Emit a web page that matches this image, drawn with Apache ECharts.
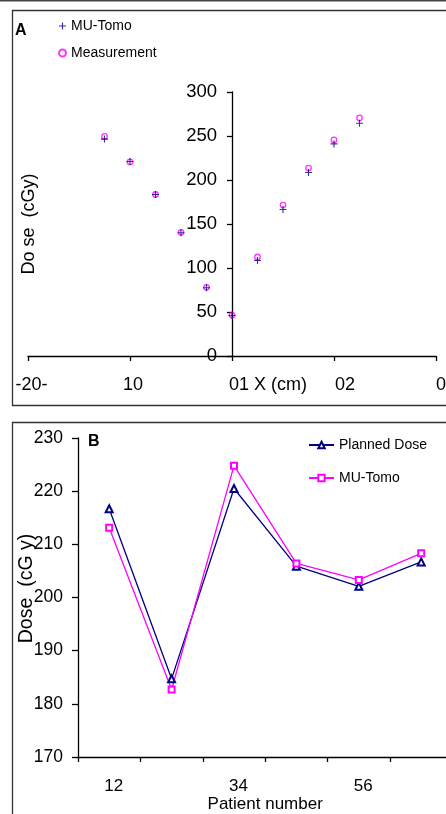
<!DOCTYPE html>
<html>
<head>
<meta charset="utf-8">
<script src="https://cdn.jsdelivr.net/npm/echarts@6/dist/echarts.min.js"></script>
<style>html,body{margin:0;padding:0;background:#fff}#c{width:446px;height:814px}</style>
</head>
<body>
<div id="c"></div>
<script>
// ---- Panel A data ----
const xPositionsA = [-12.5, -10, -7.5, -5, -2.5, 0, 2.5, 5, 7.5, 10, 12.5];
const muTomoA = [246.5, 221, 183.5, 140, 77.5, 46, 108.5, 166.5, 208.5, 241, 264.5];
const measurementA = [249.5, 220.5, 183.5, 140.5, 78, 46.5, 112.5, 171.5, 213.5, 245.5, 270.5];
const xTickLabelsA = ['-20-', '10', '01 X (cm)', '02', '0'];
// ---- Panel B data ----
const patientsB = ['1', '2', '3', '4', '5', '6'];
const plannedDoseB = [216.7, 184.7, 220.5, 205.9, 202.1, 206.7];
const muTomoB = [213.1, 182.7, 224.8, 206.4, 203.3, 208.3];
const xTickLabelsB = ['12', '34', '56'];

const FONT = 'Liberation Sans, Arial, sans-serif';
const axisLineStyle = { color: '#000', width: 1.3 };
const plusPath = 'path://M4.2,0H5.8V4.2H10V5.8H5.8V10H4.2V5.8H0V4.2H4.2Z';

const chart = echarts.init(document.getElementById('c'), null, { renderer: 'canvas' });
const shiftsA = [7, 6, 72, 22, 10];
const richA = {};
shiftsA.forEach((p, i) => { richA['s' + i] = { padding: [0, 0, 0, p], fontSize: 18, fontFamily: FONT, color: '#000' }; });

chart.setOption({
  animation: false,
  backgroundColor: '#fff',
  textStyle: { fontFamily: FONT },
  grid: [
    { left: 28, right: 10, top: 92, bottom: 458, containLabel: false, outerBoundsMode: 'none' },
    { left: 78, right: -6.4, top: 438, bottom: 57, containLabel: false, outerBoundsMode: 'none' }
  ],
  xAxis: [
    {
      gridIndex: 0, type: 'value', min: -20, max: 20, interval: 10,
      splitLine: { show: false },
      axisLine: { show: true, onZero: false, lineStyle: axisLineStyle },
      axisTick: { show: true, length: 5, lineStyle: axisLineStyle },
      axisLabel: {
        margin: 20, fontSize: 18, color: '#000', fontFamily: FONT,
        formatter: function (v) { const i = Math.round((v + 20) / 10); return '{s' + i + '|' + xTickLabelsA[i] + '}'; },
        rich: richA
      }
    },
    {
      gridIndex: 1, type: 'category', data: patientsB, boundaryGap: true,
      axisLine: { show: true, onZero: false, lineStyle: axisLineStyle },
      axisTick: { show: true, length: 5, interval: 0, lineStyle: axisLineStyle },
      axisLabel: {
        interval: 1, margin: 21, fontSize: 17, color: '#000', fontFamily: FONT, padding: [0, 0, 0, 9],
        formatter: function (v, i) { return xTickLabelsB[Math.floor(i / 2)]; }
      },
      name: 'Patient number', nameLocation: 'middle', nameGap: 39, nameMoveOverlap: false,
      nameTextStyle: { fontSize: 17, color: '#000', fontFamily: FONT }
    }
  ],
  yAxis: [
    {
      gridIndex: 0, type: 'value', min: 0, max: 300, interval: 50,
      offset: -204,
      splitLine: { show: false },
      axisLine: { show: true, onZero: false, lineStyle: axisLineStyle },
      axisTick: { show: true, length: 5, lineStyle: axisLineStyle },
      axisLabel: { margin: 15, fontSize: 18.5, color: '#000', fontFamily: FONT },
      name: 'Do se  (cGy)', nameLocation: 'middle', nameGap: 194, nameRotate: 90, nameMoveOverlap: false,
      nameTextStyle: { fontSize: 18, color: '#000', fontFamily: FONT }
    },
    {
      gridIndex: 1, type: 'value', min: 170, max: 230, interval: 10,
      splitLine: { show: false },
      axisLine: { show: true, onZero: false, lineStyle: axisLineStyle },
      axisTick: { show: true, length: 6, lineStyle: axisLineStyle },
      axisLabel: { margin: 15, fontSize: 17.5, color: '#000', fontFamily: FONT },
      name: 'Dose  (cG y)', nameLocation: 'middle', nameGap: 41, nameRotate: 90, nameMoveOverlap: false,
      nameTextStyle: { fontSize: 19.5, color: '#000', fontFamily: FONT, padding: [0, 0, 0, 18] }
    }
  ],
  legend: [
    {
      data: ['MU-Tomo ', 'Measurement'], orient: 'vertical', left: 53, top: 14,
      itemWidth: 7, itemHeight: 7, itemGap: 13,
      textStyle: { fontSize: 14, color: '#000', fontFamily: FONT }
    },
    {
      data: ['Planned Dose', 'MU-Tomo'], orient: 'vertical', left: 303, top: 433,
      itemWidth: 25, itemHeight: 8, itemGap: 19,
      textStyle: { fontSize: 14, color: '#000', fontFamily: FONT }
    }
  ],
  series: [
    {
      name: 'Measurement', type: 'scatter', xAxisIndex: 0, yAxisIndex: 0,
      data: xPositionsA.map((x, i) => [x, measurementA[i]]),
      symbol: 'circle', symbolSize: 5.5,
      itemStyle: { color: 'rgba(255,255,255,0)', borderColor: '#FF00FF', borderWidth: 1.3 }
    },
    {
      name: 'MU-Tomo ', type: 'scatter', xAxisIndex: 0, yAxisIndex: 0,
      data: xPositionsA.map((x, i) => [x, muTomoA[i]]),
      symbol: plusPath, symbolSize: 7,
      itemStyle: { color: '#000080' }
    },
    {
      name: 'Planned Dose', type: 'line', xAxisIndex: 1, yAxisIndex: 1,
      data: plannedDoseB, symbol: 'emptyTriangle', symbolSize: 7,
      lineStyle: { color: '#000080', width: 1.3 },
      itemStyle: { color: '#000080', borderWidth: 1.1 }
    },
    {
      name: 'MU-Tomo', type: 'line', xAxisIndex: 1, yAxisIndex: 1,
      data: muTomoB, symbol: 'emptyRect', symbolSize: 6,
      lineStyle: { color: '#FF00FF', width: 1.3 },
      itemStyle: { color: '#FF00FF', borderWidth: 1.1 }
    }
  ],
  graphic: [
    { type: 'line', shape: { x1: 0, y1: 0.5, x2: 446, y2: 0.5 }, style: { stroke: '#444', lineWidth: 2 }, silent: true },
    { type: 'rect', shape: { x: 12.5, y: 10.5, width: 500, height: 395 }, style: { fill: 'none', stroke: '#333', lineWidth: 1.3 }, silent: true },
    { type: 'rect', shape: { x: 12.5, y: 422.5, width: 500, height: 500 }, style: { fill: 'none', stroke: '#333', lineWidth: 1.3 }, silent: true },
    { type: 'text', style: { text: 'A', x: 15, y: 23, font: 'bold 16px ' + FONT, fill: '#000' }, silent: true },
    { type: 'text', style: { text: 'B', x: 88, y: 434, font: 'bold 16px ' + FONT, fill: '#000' }, silent: true }
  ]
});
</script>
</body>
</html>
